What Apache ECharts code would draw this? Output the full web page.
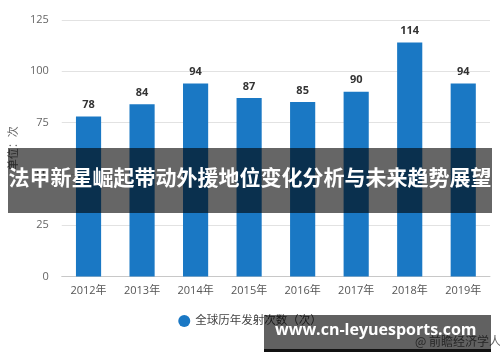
<!DOCTYPE html>
<html>
<head>
<meta charset="utf-8">
<script src="https://cdn.jsdelivr.net/npm/echarts@6/dist/echarts.min.js"></script>
<style>html,body{margin:0;padding:0;background:#fff}#c{width:500px;height:362px}</style>
</head>
<body>
<div id="c"></div>
<script>
var categories = ['2012年','2013年','2014年','2015年','2016年','2017年','2018年','2019年'];
var launches = [78, 84, 94, 87, 85, 90, 114, 94];
var yTicks = [0, 25, 50, 75, 100, 125];
var seriesName = '全球历年发射次数（次）';
var yName = '单位：次';
var bannerTitle = '法甲新星崛起带动外援地位变化分析与未来趋势展望';
var siteText = 'www.cn-leyuesports.com';
var sourceText = '@ 前瞻经济学人APP';

var FONT = "'Open Sans','Noto Sans CJK SC',sans-serif";
var chart = echarts.init(document.getElementById('c'));
chart.setOption({
  animation: false,
  textStyle: {fontFamily: FONT},
  grid: {left: 55, right: 10, top: 20, bottom: 85.5},
  legend: {
    data: [seriesName], top: 310, left: 'center', icon: 'circle',
    itemWidth: 12, itemHeight: 12, itemGap: 8,
    textStyle: {fontSize: 11.5, color: '#444', fontFamily: FONT}
  },
  xAxis: {
    type: 'category', data: categories,
    axisLine: {lineStyle: {color: '#c8c8c8'}},
    axisTick: {alignWithLabel: true, length: 4, lineStyle: {color: '#c8c8c8'}},
    axisLabel: {color: '#555', fontSize: 11, margin: 9}
  },
  yAxis: {
    type: 'value', min: yTicks[0], max: yTicks[yTicks.length-1], interval: 25,
    name: yName, nameLocation: 'middle', nameGap: 40, nameRotate: 90,
    nameTextStyle: {color: '#666', fontSize: 11},
    axisLine: {show: false}, axisTick: {show: false},
    axisLabel: {color: '#666', fontSize: 11, margin: 13},
    splitLine: {lineStyle: {color: '#e2e2e2'}}
  },
  series: [{
    name: seriesName, type: 'bar', data: launches, barWidth: '47%',
    itemStyle: {color: '#1a78c4'},
    label: {show: true, position: 'top', color: '#333', fontWeight: 'bold', fontSize: 11, distance: 6}
  }],
  graphic: [
    {type: 'text', left: 415, top: 335, z: 5, style: {text: sourceText, fill: '#666', font: "12px 'Noto Sans CJK SC'"}},
    {type: 'rect', left: 8, top: 148, z: 10, shape: {width: 484, height: 65}, style: {fill: 'rgba(0,0,0,0.6)'}},
    {type: 'text', left: 'center', top: 167, z: 11, style: {text: bannerTitle, fill: '#fff', font: "bold 21px 'Noto Sans CJK SC'"}},
    {type: 'rect', left: 264, top: 315, z: 10, shape: {width: 227, height: 35}, style: {fill: 'rgba(0,0,0,0.62)'}},
    {type: 'rect', left: 264, top: 349, z: 10, shape: {width: 227, height: 3}, style: {fill: '#111'}},
    {type: 'text', left: 275, top: 322, z: 11, style: {text: siteText, fill: '#fff', font: "bold 16px 'Open Sans'"}}
  ]
});
</script>
</body>
</html>
